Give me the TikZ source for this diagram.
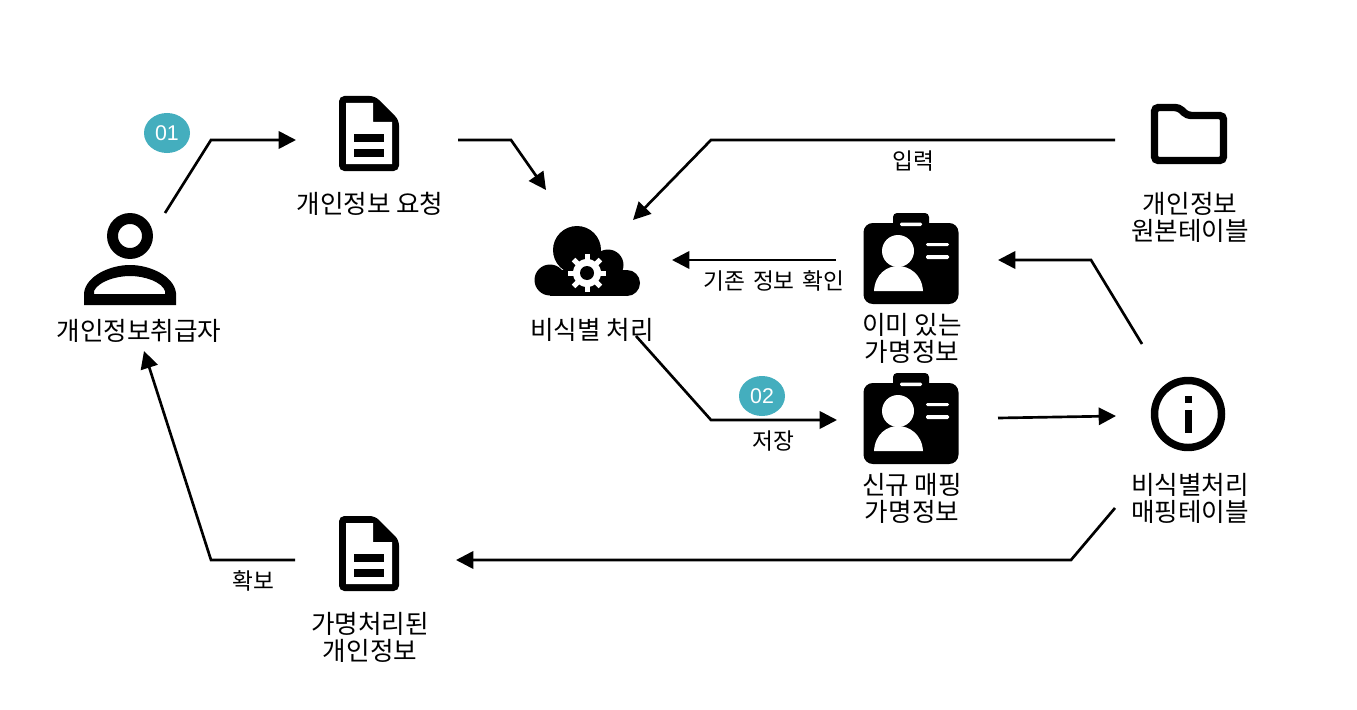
\documentclass[tikz,border=0pt]{standalone}
\usepackage{fontspec}
\setmainfont{Noto Sans CJK KR}
\newfontfamily\latinnum{Liberation Sans}
\usetikzlibrary{arrows.meta,shapes.geometric}
\definecolor{tealbadge}{HTML}{44AEBE}
\tikzset{
  x=0.75pt,y=-0.75pt,
  hit/.style={inner sep=0pt,minimum size=2pt},
  lab/.style={inner sep=0pt,align=center,font=\fontsize{19.2pt}{20.2pt}\selectfont},
  small/.style={inner sep=0pt,align=center,font=\fontsize{17pt}{20pt}\selectfont},
  num/.style={ellipse,fill=tealbadge,text=white,inner sep=0pt,minimum width=34.5pt,minimum height=30pt,font=\latinnum\fontsize{16pt}{16pt}\selectfont},
  conn/.style={draw=black,line width=2pt,line join=miter,-{Triangle[length=13pt,width=13pt]}},
  docicon/.pic={
    \fill[rounded corners=4pt] (-30,-38) -- (6,-38) -- (30,-14) -- (30,37) -- (-30,37) -- cycle;
    \fill[white] (-23,-31) -- (4,-31) -- (4,-12) -- (23,-12) -- (23,30) -- (-23,30) -- cycle;
    \fill (-15,0) rectangle (15,8);
    \fill (-15,15) rectangle (15,23);
  },
  idicon/.pic={
    \fill[rounded corners=7pt] (-47.5,-36) rectangle (47.5,45);
    \fill[rounded corners=3pt] (-18,-46) rectangle (18,-30);
    \fill[white,rounded corners=1pt] (-11,-36.5) rectangle (11,-33);
    \fill[white] (-13,-8) circle (16);
    \fill[white] (-37,32) .. controls (-36,15) and (-24,7) .. (-13,7) .. controls (-2,7) and (11,15) .. (12,32) -- cycle;
    \fill[white,rounded corners=1pt] (15,-16) rectangle (38,-13);
    \fill[white,rounded corners=1pt] (15,-4) rectangle (38,0);
  }
}
\begin{document}
\begin{tikzpicture}
\useasboundingbox (0,0) rectangle (1357,710);
\fill[white] (0,0) rectangle (1357,710);

% anchor nodes of the icons
\node[hit] (person) at (130,262) {};
\node[hit] (reqdoc) at (369,134) {};
\node[hit] (cloud) at (587,260) {};
\node[hit] (oldid) at (911,259) {};
\node[hit] (newid) at (911,419) {};
\node[hit] (folder) at (1189,134) {};
\node[hit] (info) at (1188,414) {};
\node[hit] (outdoc) at (369,554) {};

% person
\draw[line width=8.2pt] (130,236) circle (17.5);
\fill[even odd rule] (84,305) -- (84,293) .. controls (86,276) and (110,265) .. (130,265) .. controls (150,265) and (174,276) .. (176,293) -- (176,305) -- cycle
  (94,294) -- (94,291) .. controls (98,282) and (115,276) .. (130,276) .. controls (145,276) and (162,282) .. (165,291) -- (165,294) -- cycle;

% documents
\pic at (369,134) {docicon};
\pic at (369,554) {docicon};

% cloud with gear
\fill (577,250) circle (24);
\fill (608,265) circle (15.5);
\fill (550,280) circle (15.5);
\fill (627,283) circle (13);
\fill (550,270) rectangle (627,296);
\foreach \a in {0,45,...,315}{
  \fill[white,rotate around={\a:(587,273)}] (584.5,254) rectangle (589.5,262);
}
\fill[white] (587,273) circle (14);
\fill (587,273) circle (7);

% id cards
\pic at (911,259) {idicon};
\pic at (911,419) {idicon};

% folder
\draw[line width=5.6pt,rounded corners=3pt] (1154.5,107.5) -- (1179,107.5) -- (1187,115.5) -- (1223.5,115.5) -- (1223.5,160.5) -- (1154.5,160.5) -- cycle;

% info
\draw[line width=5.6pt] (1188,414) circle (33.5);
\fill (1185,396) rectangle (1192,403);
\fill (1185,410) rectangle (1192,433);

% labels
\node[lab] (lperson) at (139,331) {개인정보취급자};
\node[lab] (lreq) at (370,204) {개인정보 요청};
\node[lab] (lcloud) at (592,330) {비식별 처리};
\node[lab] (lold) at (912,338) {이미 있는\\가명정보};
\node[lab] (lnew) at (912,498) {신규 매핑\\가명정보};
\node[lab] (lfolder) at (1190,217) {개인정보\\원본테이블};
\node[lab] (linfo) at (1190,498) {비식별처리\\매핑테이블};
\node[lab] (lout) at (370,637) {가명처리된\\개인정보};
\node[small] (lin) at (913,161) {입력};
\node[small] (lcheck) at (774,281) {기존\hspace{2pt} 정보\hspace{2pt} 확인};
\node[small] (lsave) at (773,441) {저장};
\node[small] (lget) at (253,581) {확보};

% step badges
\node[num] (n1) at (167,133) {01};
\node[num] (n2) at (762,396) {02};

% connectors
\draw[conn] ([shift={(35,-49)}]person.center) -- (211,140) -- ([shift={(-73,6)}]reqdoc.center);
\draw[conn] ([shift={(89,6)}]reqdoc.center) -- (511,140) -- ([shift={(-41,-70)}]cloud.center);
\draw[conn] ([shift={(-74,6)}]folder.center) -- (711,140) -- ([shift={(46,-40)}]cloud.center);
\draw[conn] ([shift={(-75,1)}]oldid.center) -- ([shift={(85,0)}]cloud.center);
\draw[conn] ([shift={(49,76)}]cloud.center) -- (711,420) -- ([shift={(-74,1)}]newid.center);
\draw[conn] ([shift={(-46,-70)}]info.center) -- (1091,260) -- ([shift={(87,1)}]oldid.center);
\draw[conn] ([shift={(87,-1)}]newid.center) -- ([shift={(-72,2)}]info.center);
\draw[conn] ([shift={(-73,94)}]info.center) -- (1071,560) -- ([shift={(87,6)}]outdoc.center);
\draw[conn] ([shift={(-74,6)}]outdoc.center) -- (211,560) -- ([shift={(14,89)}]person.center);
\end{tikzpicture}
\end{document}
